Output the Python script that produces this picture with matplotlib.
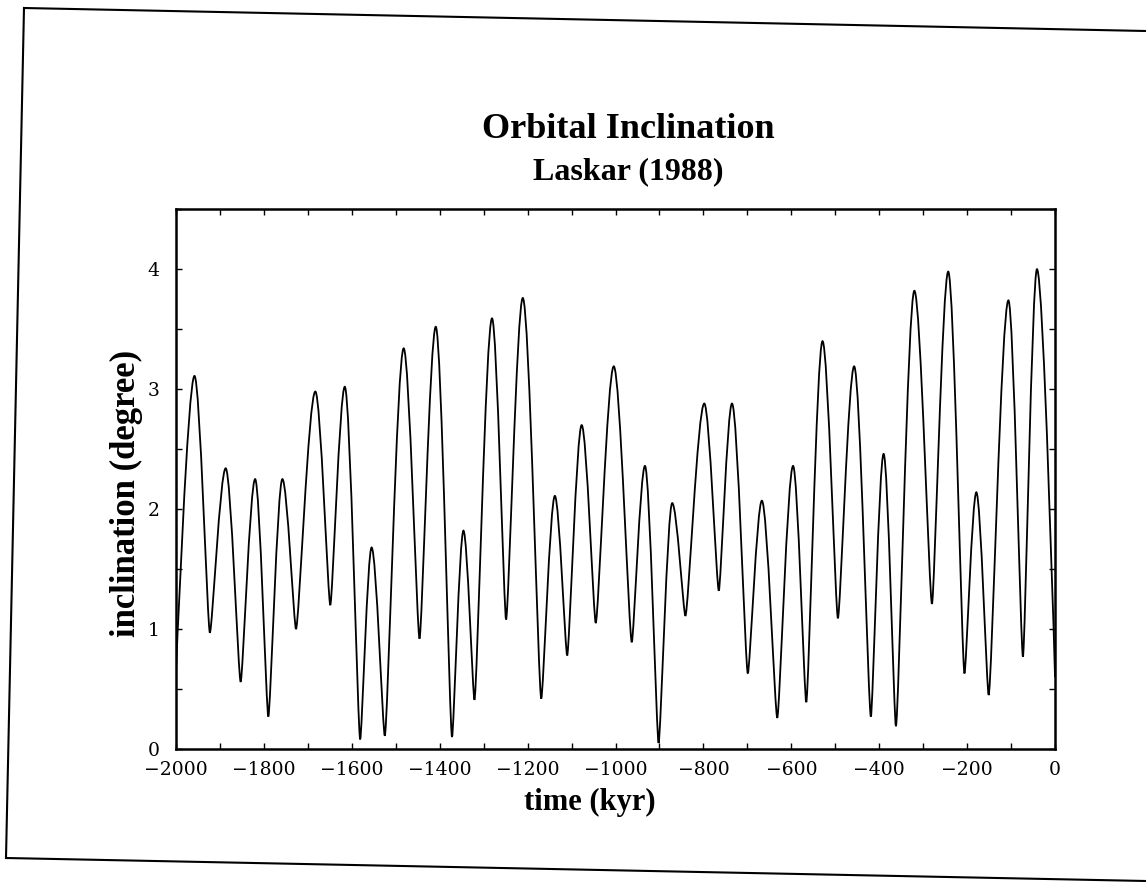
import matplotlib
matplotlib.use("Agg")
import matplotlib.pyplot as plt
from matplotlib.path import Path
from matplotlib.patches import PathPatch
from matplotlib.lines import Line2D
from matplotlib.ticker import MultipleLocator

# turning points of the inclination curve (kyr before present, degrees)
time_kyr = [-2000, -1958, -1923, -1887, -1853, -1820, -1790, -1758, -1727,
            -1683, -1649, -1616, -1581, -1555, -1525, -1482, -1446, -1409,
            -1372, -1346, -1321, -1281, -1249, -1211, -1169, -1138, -1110,
            -1077, -1045, -1004, -963, -933, -902, -871, -841, -798, -765,
            -735, -699, -667, -632, -596, -566, -529, -494, -457, -419,
            -390, -362, -320, -280, -243, -206, -179, -151, -106, -73,
            -41, 0]
incl_deg = [0.65, 3.11, 0.97, 2.34, 0.56, 2.25, 0.27, 2.25, 1.00,
            2.98, 1.20, 3.02, 0.08, 1.68, 0.11, 3.34, 0.92, 3.52,
            0.10, 1.82, 0.41, 3.59, 1.08, 3.76, 0.42, 2.11, 0.78,
            2.70, 1.05, 3.19, 0.89, 2.36, 0.05, 2.05, 1.11, 2.88, 1.32,
            2.88, 0.63, 2.07, 0.26, 2.36, 0.39, 3.40, 1.09, 3.19, 0.27,
            2.46, 0.19, 3.82, 1.21, 3.98, 0.63, 2.14, 0.45, 3.74, 0.77,
            4.00, 0.60]

serif = "Liberation Serif"
tick_font = "DejaVu Serif"


def curve_through(t, v, k_peak=0.35, k_trough=0.15):
    # cubic segments with flat tangents at each turning point:
    # broad rounded maxima, narrow minima
    n = len(t)

    def reach(i):
        if i == 0 or i == n - 1:
            return 0.0
        return k_peak if v[i] > v[i - 1] else k_trough

    verts = [(t[0], v[0])]
    codes = [Path.MOVETO]
    for i in range(n - 1):
        dt = t[i + 1] - t[i]
        verts += [(t[i] + reach(i) * dt, v[i]),
                  (t[i + 1] - reach(i + 1) * dt, v[i + 1]),
                  (t[i + 1], v[i + 1])]
        codes += [Path.CURVE4] * 3
    return Path(verts, codes)


fig = plt.figure(figsize=(11.46, 8.82), dpi=100)
ax = fig.add_axes([0.1536, 0.1508, 0.767, 0.612])

ax.add_patch(PathPatch(curve_through(time_kyr, incl_deg), fill=False,
                       edgecolor="black", linewidth=1.3))

ax.set_xlim(-2000, 0)
ax.set_ylim(0, 4.5)
ax.xaxis.set_major_locator(MultipleLocator(200))
ax.xaxis.set_minor_locator(MultipleLocator(100))
ax.yaxis.set_major_locator(MultipleLocator(1))
ax.yaxis.set_minor_locator(MultipleLocator(0.5))
ax.tick_params(which="both", direction="in", top=True, right=True,
               length=4, width=1.0)
ax.tick_params(axis="x", pad=9)
ax.tick_params(axis="y", pad=12)
for lab in ax.get_xticklabels() + ax.get_yticklabels():
    lab.set_fontfamily(tick_font)
    lab.set_fontsize(13.5)
for sp in ax.spines.values():
    sp.set_linewidth(1.8)

fig.text(0.548, 0.843, "Orbital Inclination", ha="center", va="baseline",
         family=serif, weight="bold", fontsize=26)
fig.text(0.548, 0.797, "Laskar (1988)", ha="center", va="baseline",
         family=serif, weight="bold", fontsize=23)
fig.text(0.515, 0.0816, "time (kyr)", ha="center", va="baseline",
         family=serif, weight="bold", fontsize=22)
fig.text(0.110, 0.44, "inclination (degree)", ha="center", va="center",
         rotation=90, family=serif, weight="bold", fontsize=25)

# page border around the figure
W, H = 1146.0, 882.0
for (x0, y0), (x1, y1) in [((24, 8), (6, 858)),
                           ((24, 8), (1146, 31)),
                           ((6, 858), (1146, 881))]:
    fig.add_artist(Line2D([x0 / W, x1 / W], [1 - y0 / H, 1 - y1 / H],
                          transform=fig.transFigure, color="black",
                          linewidth=1.5))

fig.savefig("out.png", dpi=100)
